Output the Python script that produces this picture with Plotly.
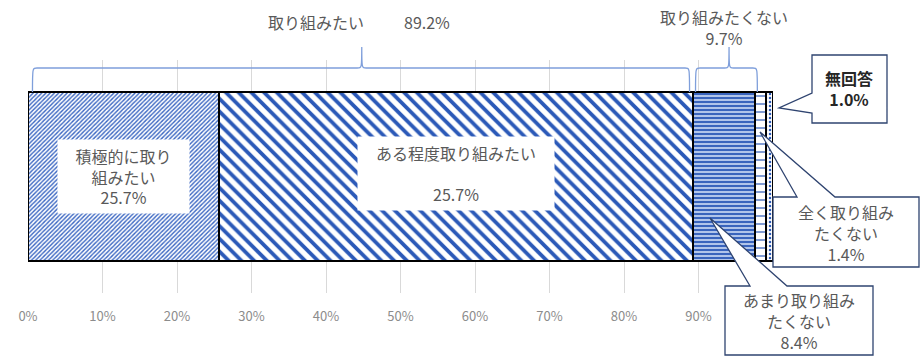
import plotly.graph_objects as go

# ---------------- data ----------------
categories = ["積極的に取り組みたい", "ある程度取り組みたい", "あまり取り組みたくない",
              "全く取り組みたくない", "無回答"]
values = [25.7, 63.5, 8.4, 1.4, 1.0]
segment_labels = ["積極的に取り<br>組みたい<br>25.7%",
                  "ある程度取り組みたい<br><br>25.7%",
                  "あまり取り組み<br>たくない<br>8.4%",
                  "全く取り組み<br>たくない<br>1.4%",
                  "<b>無回答<br>1.0%</b>"]
group_names = ["取り組みたい", "取り組みたくない"]
group_values = [89.2, 9.7]
tick_vals = [0, 10, 20, 30, 40, 50, 60, 70, 80, 90, 100]
tick_labels = ["0%", "10%", "20%", "30%", "40%", "50%", "60%", "70%", "80%", "90%", ""]

# ---------------- styles ----------------
W, H = 922, 363
ML, MR, MT, MB = 28, 149, 60, 70
PW, PH = W - ML - MR, H - MT - MB
BLUE = "#2B59B8"
NAVY = "#2F4470"
GRAY = "#595959"
FONT = "Noto Sans CJK JP"

patterns = [
    dict(shape="/", fgcolor="#3A66C2", bgcolor="white", size=3, solidity=0.45, fgopacity=1),
    dict(shape="\\", fgcolor=BLUE, bgcolor="white", size=9, solidity=0.42, fgopacity=1),
    dict(shape="-", fgcolor=BLUE, bgcolor="#B0C4EA", size=4, solidity=0.45, fgopacity=1),
    dict(shape="-", fgcolor=BLUE, bgcolor="white", size=8, solidity=0.15, fgopacity=1),
    dict(shape=".", fgcolor=BLUE, bgcolor="white", size=4, solidity=0.3, fgopacity=1),
]

fig = go.Figure()
for cat, v, pat in zip(categories, values, patterns):
    fig.add_trace(go.Bar(
        x=[v], y=[0], orientation="h", name=cat,
        marker=dict(color="white", pattern=pat, line=dict(color="black", width=2)),
        hoverinfo="skip",
    ))

def px_x(px):
    return (px - ML) / PW

def px_y(py):
    return (MT + PH - py) / PH

shapes = []
annotations = []

def note(px, py, text, color=GRAY):
    annotations.append(dict(x=px_x(px), y=px_y(py), xref="paper", yref="paper",
                            xanchor="center", yanchor="middle", text=text,
                            showarrow=False, align="center",
                            font=dict(family=FONT, size=16, color=color)))

# cumulative positions
cum = [0]
for v in values:
    cum.append(cum[-1] + v)

# labels inside the two big segments (white boxes)
annotations.append(dict(
    x=(cum[0] + cum[1]) / 2, y=0, xref="x", yref="y", text=segment_labels[0],
    xanchor="center", yanchor="middle",
    showarrow=False, bgcolor="white", width=125, height=67, borderpad=3,
    font=dict(family=FONT, size=16, color=GRAY), align="center"))
annotations.append(dict(
    x=(cum[1] + cum[2]) / 2, y=0, xref="x", yref="y", yshift=3, text=segment_labels[1],
    xanchor="center", yanchor="middle",
    showarrow=False, bgcolor="white", width=190, height=67, borderpad=3,
    font=dict(family=FONT, size=16, color=GRAY), align="center"))

# braces
BRACE = "#7F9FDB"
def brace(x0, x1, xm, ybot, yline, ypeak):
    d = 0.6
    p = (f"M {x0},{ybot} C {x0},{yline} {x0},{yline} {x0 + d},{yline} "
         f"L {xm - d},{yline} C {xm},{yline} {xm},{yline} {xm},{ypeak} "
         f"C {xm},{yline} {xm},{yline} {xm + d},{yline} "
         f"L {x1 - d},{yline} C {x1},{yline} {x1},{yline} {x1},{ybot}")
    return dict(type="path", xref="x", yref="paper", path=p,
                line=dict(color=BRACE, width=1.3), layer="above")

ybot, yline, ypeak = px_y(92), px_y(68), px_y(47)
g1_end = group_values[0]
shapes.append(brace(0.6, g1_end - 0.4, 44.8, ybot, yline, ypeak))
g2_start = cum[2]
g2_end = cum[2] + group_values[1]
shapes.append(brace(g2_start + 0.4, g2_end - 1.0, 94.1, ybot, yline, ypeak))

note(316, 22, group_names[0])
note(427, 22, f"{group_values[0]:.1f}%")
note(724, 27, f"{group_names[1]}<br>{group_values[1]:.1f}%")

# callouts
def pt(px, py):
    return f"{px_x(px)},{px_y(py)}"

def callout_top(L, R, T, B, b0, b1, tip):
    p = (f"M {pt(L, T)} L {pt(b0, T)} L {pt(*tip)} L {pt(b1, T)} L {pt(R, T)} "
         f"L {pt(R, B)} L {pt(L, B)} Z")
    return dict(type="path", xref="paper", yref="paper", path=p, fillcolor="white",
                line=dict(color=NAVY, width=1.3), layer="above")

def callout_left(L, R, T, B, b0, b1, tip):
    p = (f"M {pt(L, T)} L {pt(R, T)} L {pt(R, B)} L {pt(L, B)} L {pt(L, b1)} "
         f"L {pt(*tip)} L {pt(L, b0)} Z")
    return dict(type="path", xref="paper", yref="paper", path=p, fillcolor="white",
                line=dict(color=NAVY, width=1.3), layer="above")

# あまり取り組みたくない
shapes.append(callout_top(725, 873, 286, 355, 750, 787, (710, 218)))
note(799, 321, segment_labels[2])
# 全く取り組みたくない
shapes.append(callout_top(773, 919, 197, 267, 797, 835, (760, 132)))
note(846, 233, segment_labels[3])
# 無回答
shapes.append(callout_left(812, 887, 55, 123, 93, 113, (779, 108)))
note(849, 89, segment_labels[4], color="#262626")

fig.update_layout(
    width=W, height=H,
    margin=dict(l=ML, r=MR, t=MT, b=MB),
    barmode="stack", bargap=0.277, showlegend=False,
    paper_bgcolor="white", plot_bgcolor="white",
    shapes=shapes, annotations=annotations,
    xaxis=dict(range=[0, 100], tickvals=tick_vals, ticktext=tick_labels,
               showgrid=True, gridcolor="#D9D9D9", gridwidth=1, zeroline=False,
               showline=False, ticks="", ticklabelstandoff=14,
               tickfont=dict(family=FONT, size=13, color="#8C8C8C")),
    yaxis=dict(range=[-0.5, 0.5], showticklabels=False, showgrid=False,
               zeroline=False, showline=False),
)

fig.write_html("out.html")
